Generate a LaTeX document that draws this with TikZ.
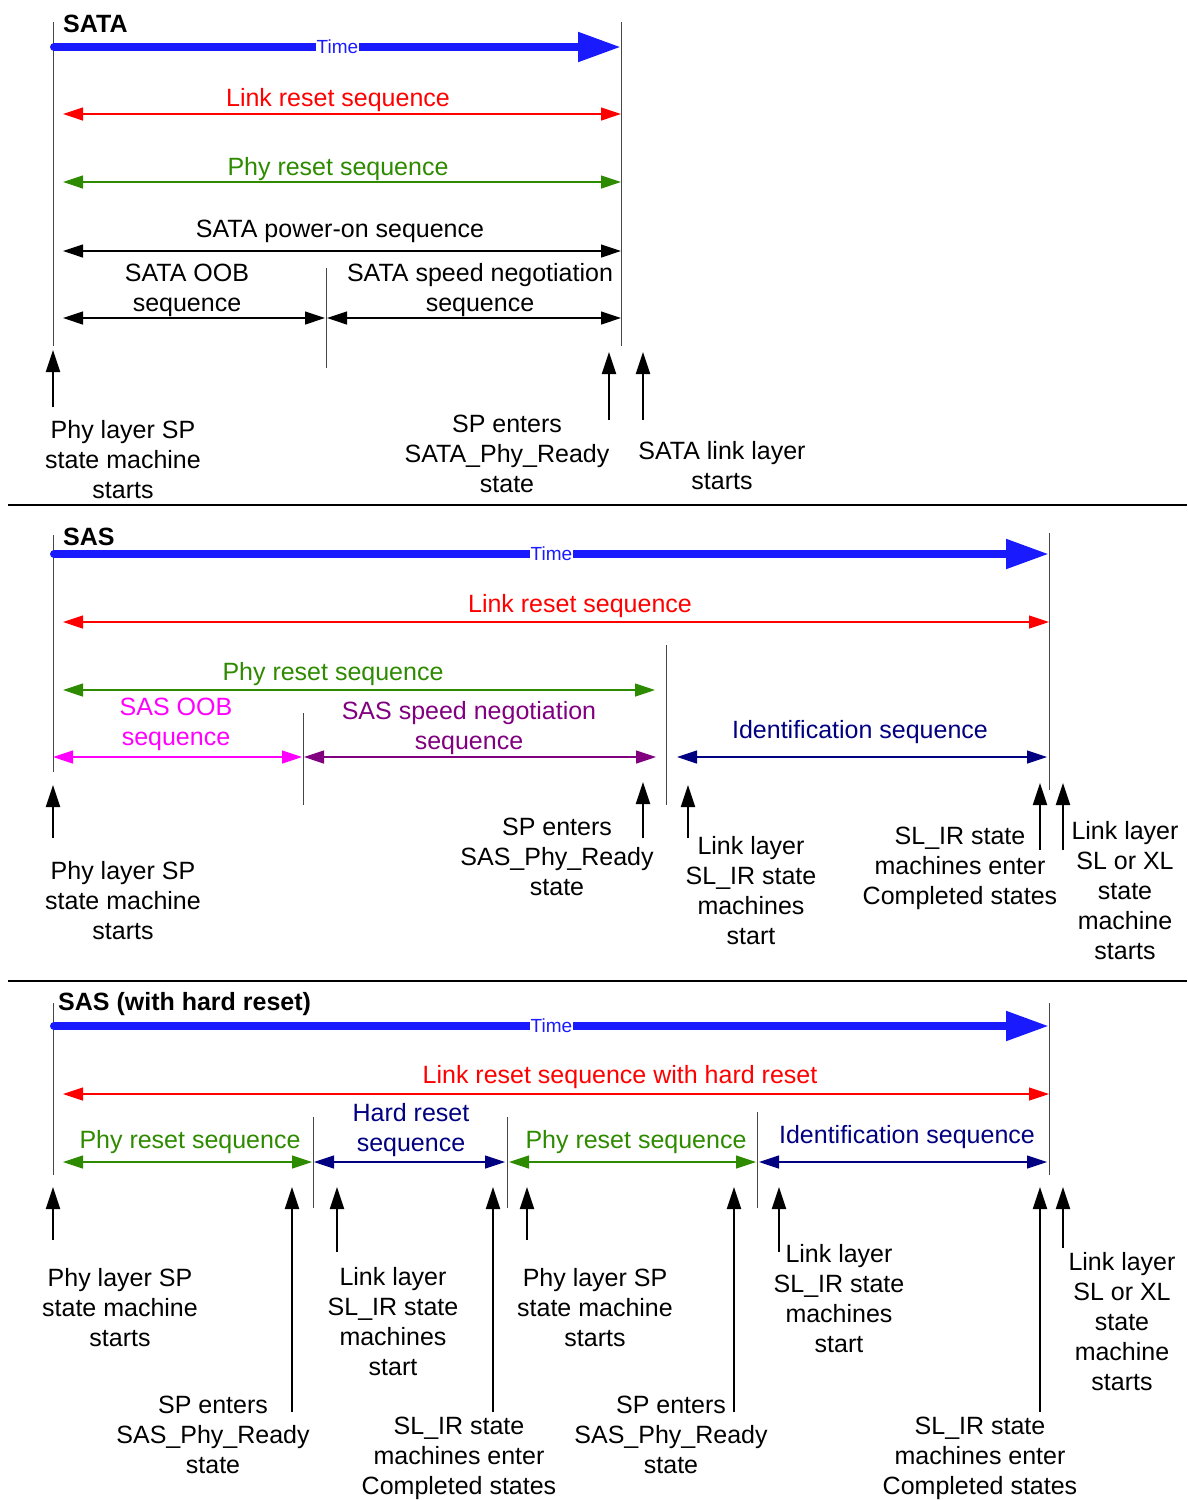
\documentclass[tikz,border=0pt]{standalone}
\usepackage{fontspec}
\setmainfont{Liberation Sans}
\usetikzlibrary{arrows.meta}
\definecolor{tblue}{RGB}{26,26,255}
\definecolor{lred}{RGB}{255,0,0}
\definecolor{pgreen}{RGB}{46,139,0}
\definecolor{navyc}{RGB}{0,0,128}
\definecolor{purp}{RGB}{128,0,128}
\definecolor{mag}{RGB}{255,0,255}
\definecolor{vline}{RGB}{70,70,70}
\begin{document}
\begin{tikzpicture}[x=1pt,y=-1pt,
 lbl/.style={font=\fontsize{25}{30}\selectfont, align=center, inner sep=0pt, yshift=-2pt},
 ttl/.style={font=\fontsize{25}{30}\selectfont\bfseries, anchor=west, inner sep=0pt, yshift=-1pt},
 timelbl/.style={font=\fontsize{19}{22}\selectfont, text=tblue, fill=white, inner sep=1pt},
 timearrow/.style={draw=tblue, line width=8pt, line cap=round, -{Triangle[length=43pt,width=28pt]}},
 seq/.style={line width=1.2pt, {Triangle[length=20pt,width=13pt]}-{Triangle[length=20pt,width=13pt]}},
 uparrow/.style={line width=2pt, -{Triangle[length=22pt,width=14pt]}},
 vbar/.style={draw=vline, line width=1pt},
 sepline/.style={line width=2pt}]
\useasboundingbox (0,0) rectangle (1187,1500);

% ================= SATA =================
\node[ttl] (t1) at (63,23) {SATA};
\draw[vbar] (53,22) -- (53,346);
\draw[vbar] (621,22) -- (621,346);
\draw[vbar] (326,268) -- (326,368);
\coordinate (s1a) at (54,47); \coordinate (s1b) at (621,47);
\draw[timearrow] (s1a) -- node[timelbl] (time1) {Time} (s1b);

\node[lbl, text=lred] (l1) at (338,98) {Link reset sequence};
\coordinate (r1a) at (63,114); \coordinate (r1b) at (621,114);
\draw[seq, lred] (r1a) -- (r1b);

\node[lbl, text=pgreen] (p1) at (338,167) {Phy reset sequence};
\coordinate (g1a) at (63,182); \coordinate (g1b) at (621,182);
\draw[seq, pgreen] (g1a) -- (g1b);

\node[lbl] (po1) at (340,229) {SATA power-on sequence};
\coordinate (k1a) at (63,251); \coordinate (k1b) at (621,251);
\draw[seq] (k1a) -- (k1b);

\node[lbl] (oob1) at (187,288) {SATA OOB\\sequence};
\coordinate (o1a) at (63,318); \coordinate (o1b) at (325,318);
\draw[seq] (o1a) -- (o1b);

\node[lbl] (spd1) at (480,288) {SATA speed negotiation\\sequence};
\coordinate (n1a) at (327,318); \coordinate (n1b) at (621,318);
\draw[seq] (n1a) -- (n1b);

\coordinate (u1b) at (53,407); \coordinate (u1t) at (53,350);
\draw[uparrow] (u1b) -- (u1t);
\coordinate (u2b) at (609,420); \coordinate (u2t) at (609,352);
\draw[uparrow] (u2b) -- (u2t);
\coordinate (u3b) at (643,420); \coordinate (u3t) at (643,352);
\draw[uparrow] (u3b) -- (u3t);

\node[lbl] (c1) at (123,458) {Phy layer SP\\state machine\\starts};
\node[lbl] (c2) at (507,452) {SP enters\\SATA\_Phy\_Ready\\state};
\node[lbl] (c3) at (722,464) {SATA link layer\\starts};

\draw[sepline] (8,505) -- (1187,505);

% ================= SAS =================
\node[ttl] (t2) at (63,536) {SAS};
\draw[vbar] (53,535) -- (53,772);
\draw[vbar] (1049,533) -- (1049,790);
\draw[vbar] (666,645) -- (666,805);
\draw[vbar] (303,713) -- (303,805);
\coordinate (s2a) at (54,554); \coordinate (s2b) at (1049,554);
\draw[timearrow] (s2a) -- node[timelbl] (time2) {Time} (s2b);

\node[lbl, text=lred] (l2) at (580,604) {Link reset sequence};
\coordinate (r2a) at (63,622); \coordinate (r2b) at (1049,622);
\draw[seq, lred] (r2a) -- (r2b);

\node[lbl, text=pgreen] (p2) at (333,672) {Phy reset sequence};
\coordinate (g2a) at (63,690); \coordinate (g2b) at (655,690);
\draw[seq, pgreen] (g2a) -- (g2b);

\node[lbl, text=mag] (oob2) at (176,722) {SAS OOB\\sequence};
\coordinate (m2a) at (53,757); \coordinate (m2b) at (302,757);
\draw[seq, mag] (m2a) -- (m2b);

\node[lbl, text=purp] (spd2) at (469,726) {SAS speed negotiation\\sequence};
\coordinate (q2a) at (304,757); \coordinate (q2b) at (656,757);
\draw[seq, purp] (q2a) -- (q2b);

\node[lbl, text=navyc] (id2) at (860,730) {Identification sequence};
\coordinate (i2a) at (677,757); \coordinate (i2b) at (1047,757);
\draw[seq, navyc] (i2a) -- (i2b);

\coordinate (v1b) at (53,838); \coordinate (v1t) at (53,785);
\draw[uparrow] (v1b) -- (v1t);
\coordinate (v2b) at (643,838); \coordinate (v2t) at (643,782);
\draw[uparrow] (v2b) -- (v2t);
\coordinate (v3b) at (688,838); \coordinate (v3t) at (688,785);
\draw[uparrow] (v3b) -- (v3t);
\coordinate (v4b) at (1040,850); \coordinate (v4t) at (1040,783);
\draw[uparrow] (v4b) -- (v4t);
\coordinate (v5b) at (1063,850); \coordinate (v5t) at (1063,783);
\draw[uparrow] (v5b) -- (v5t);

\node[lbl] (d1) at (123,899) {Phy layer SP\\state machine\\starts};
\node[lbl] (d2) at (557,855) {SP enters\\SAS\_Phy\_Ready\\state};
\node[lbl] (d3) at (751,889) {Link layer\\SL\_IR state\\machines\\start};
\node[lbl] (d4) at (960,866) {SL\_IR state\\machines enter\\Completed states};
\node[lbl] (d5) at (1125,889) {Link layer\\SL or XL\\state\\machine\\starts};

\draw[sepline] (8,981) -- (1187,981);

% ================= SAS (with hard reset) =================
\node[ttl] (t3) at (58,1003) {SAS (with hard reset)};
\draw[vbar] (53,1003) -- (53,1175);
\draw[vbar] (1049,1003) -- (1049,1175);
\draw[vbar] (313,1117) -- (313,1208);
\draw[vbar] (507,1117) -- (507,1208);
\draw[vbar] (757,1112) -- (757,1208);
\coordinate (s3a) at (54,1026); \coordinate (s3b) at (1049,1026);
\draw[timearrow] (s3a) -- node[timelbl] (time3) {Time} (s3b);

\node[lbl, text=lred] (l3) at (620,1075) {Link reset sequence with hard reset};
\coordinate (r3a) at (63,1094); \coordinate (r3b) at (1049,1094);
\draw[seq, lred] (r3a) -- (r3b);

\node[lbl, text=pgreen] (p3) at (190,1140) {Phy reset sequence};
\coordinate (g3a) at (63,1162); \coordinate (g3b) at (312,1162);
\draw[seq, pgreen] (g3a) -- (g3b);

\node[lbl, text=navyc] (h3) at (411,1128) {Hard reset\\sequence};
\coordinate (h3a) at (314,1162); \coordinate (h3b) at (505,1162);
\draw[seq, navyc] (h3a) -- (h3b);

\node[lbl, text=pgreen] (p4) at (636,1140) {Phy reset sequence};
\coordinate (g4a) at (509,1162); \coordinate (g4b) at (756,1162);
\draw[seq, pgreen] (g4a) -- (g4b);

\node[lbl, text=navyc] (id3) at (907,1135) {Identification sequence};
\coordinate (i3a) at (759,1162); \coordinate (i3b) at (1047,1162);
\draw[seq, navyc] (i3a) -- (i3b);

\coordinate (w1b) at (53,1240); \coordinate (w1t) at (53,1187);
\draw[uparrow] (w1b) -- (w1t);
\coordinate (w2b) at (292,1412); \coordinate (w2t) at (292,1187);
\draw[uparrow] (w2b) -- (w2t);
\coordinate (w3b) at (337,1252); \coordinate (w3t) at (337,1187);
\draw[uparrow] (w3b) -- (w3t);
\coordinate (w4b) at (493,1412); \coordinate (w4t) at (493,1187);
\draw[uparrow] (w4b) -- (w4t);
\coordinate (w5b) at (527,1240); \coordinate (w5t) at (527,1187);
\draw[uparrow] (w5b) -- (w5t);
\coordinate (w6b) at (734,1412); \coordinate (w6t) at (734,1187);
\draw[uparrow] (w6b) -- (w6t);
\coordinate (w7b) at (779,1252); \coordinate (w7t) at (779,1187);
\draw[uparrow] (w7b) -- (w7t);
\coordinate (w8b) at (1040,1412); \coordinate (w8t) at (1040,1187);
\draw[uparrow] (w8b) -- (w8t);
\coordinate (w9b) at (1063,1248); \coordinate (w9t) at (1063,1187);
\draw[uparrow] (w9b) -- (w9t);

\node[lbl] (e1) at (120,1306) {Phy layer SP\\state machine\\starts};
\node[lbl] (e2) at (213,1433) {SP enters\\SAS\_Phy\_Ready\\state};
\node[lbl] (e3) at (393,1320) {Link layer\\SL\_IR state\\machines\\start};
\node[lbl] (e4) at (459,1456) {SL\_IR state\\machines enter\\Completed states};
\node[lbl] (e5) at (595,1306) {Phy layer SP\\state machine\\starts};
\node[lbl] (e6) at (671,1433) {SP enters\\SAS\_Phy\_Ready\\state};
\node[lbl] (e7) at (839,1297) {Link layer\\SL\_IR state\\machines\\start};
\node[lbl] (e8) at (980,1456) {SL\_IR state\\machines enter\\Completed states};
\node[lbl] (e9) at (1122,1320) {Link layer\\SL or XL\\state\\machine\\starts};
\end{tikzpicture}
\end{document}
